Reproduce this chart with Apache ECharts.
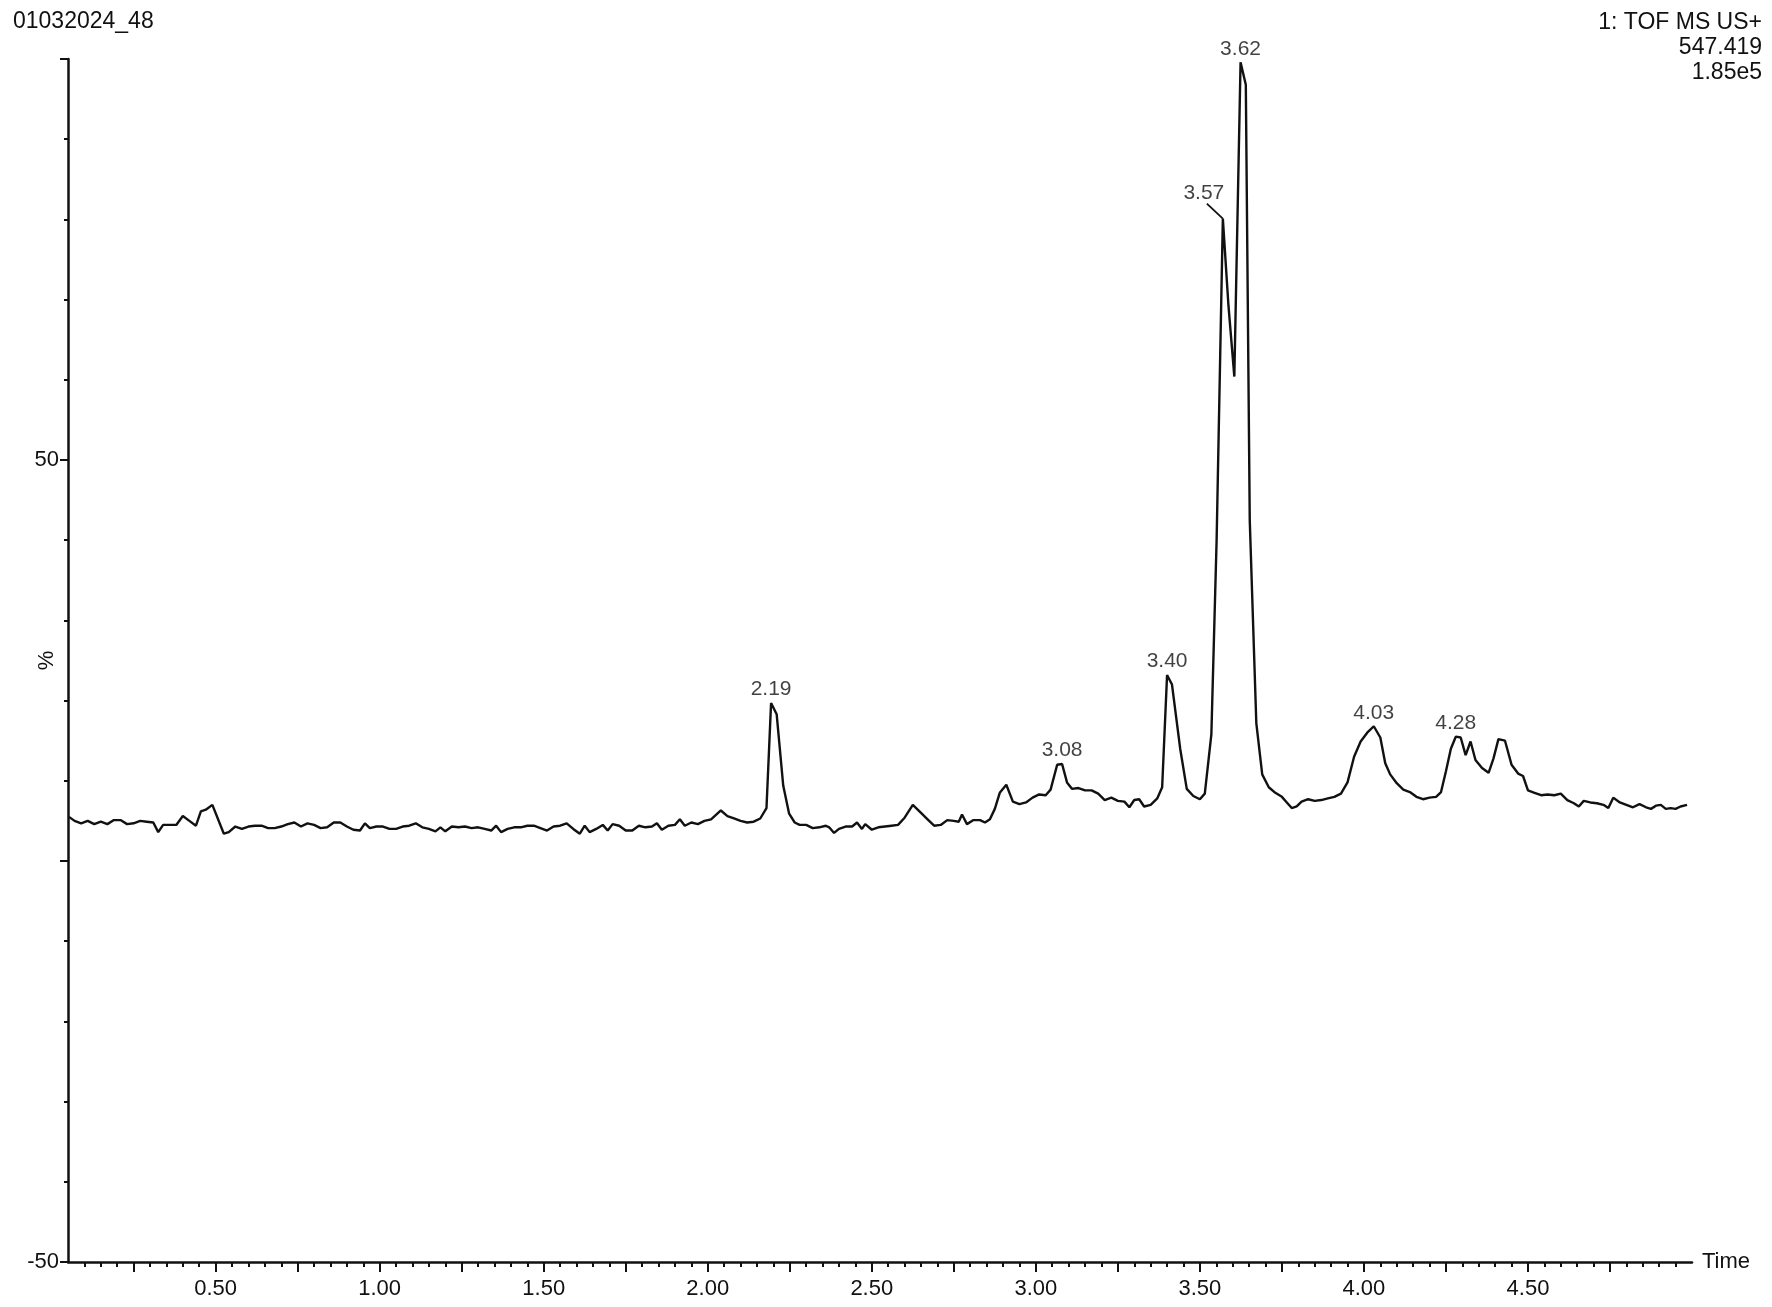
<!DOCTYPE html>
<html>
<head>
<meta charset="utf-8">
<script src="https://cdn.jsdelivr.net/npm/echarts@6/dist/echarts.min.js"></script>
<style>
html, body { margin: 0; padding: 0; background: #fff; }
#chart { width: 1772px; height: 1307px; }
</style>
</head>
<body>
<div id="chart"></div>
<script>
// retention time (min) and relative intensity (%)
var times = [
  0.053, 0.07, 0.09, 0.11, 0.13, 0.15, 0.17, 0.19, 0.21, 0.23, 0.25, 0.27, 0.29, 0.31, 0.325, 0.34, 0.36, 0.38,
  0.40, 0.42, 0.44, 0.455, 0.47, 0.49, 0.525, 0.54, 0.56, 0.58, 0.60, 0.62, 0.64, 0.66, 0.68, 0.70, 0.72, 0.74,
  0.76, 0.78, 0.80, 0.82, 0.84, 0.86, 0.88, 0.90, 0.92, 0.94, 0.955, 0.97, 0.99, 1.01, 1.03, 1.05, 1.07, 1.09,
  1.11, 1.13, 1.15, 1.17, 1.185, 1.20, 1.22, 1.24, 1.26, 1.28, 1.30, 1.32, 1.34, 1.355, 1.37, 1.39, 1.41, 1.43,
  1.45, 1.47, 1.49, 1.51, 1.53, 1.55, 1.57, 1.59, 1.61, 1.625, 1.64, 1.66, 1.68, 1.695, 1.71, 1.73, 1.75, 1.77,
  1.79, 1.81, 1.83, 1.845, 1.86, 1.88, 1.90, 1.915, 1.93, 1.95, 1.97, 1.99, 2.01, 2.04, 2.06, 2.08, 2.10, 2.12,
  2.14, 2.16, 2.179, 2.193, 2.21, 2.23, 2.248, 2.265, 2.28, 2.30, 2.32, 2.34, 2.36, 2.37, 2.385, 2.40, 2.42, 2.44,
  2.455, 2.47, 2.48, 2.50, 2.52, 2.54, 2.56, 2.58, 2.60, 2.625, 2.65, 2.67, 2.69, 2.71, 2.73, 2.75, 2.765, 2.775,
  2.79, 2.81, 2.83, 2.845, 2.86, 2.875, 2.89, 2.91, 2.93, 2.95, 2.97, 2.99, 3.01, 3.03, 3.045, 3.065, 3.08, 3.095,
  3.11, 3.13, 3.15, 3.17, 3.19, 3.21, 3.23, 3.25, 3.27, 3.285, 3.30, 3.315, 3.33, 3.35, 3.37, 3.385, 3.40, 3.415,
  3.44, 3.46, 3.48, 3.50, 3.515, 3.535, 3.551, 3.570, 3.587, 3.605, 3.624, 3.640, 3.652, 3.672, 3.69, 3.71, 3.73,
  3.75, 3.765, 3.78, 3.795, 3.81, 3.83, 3.85, 3.87, 3.89, 3.91, 3.93, 3.95, 3.97, 3.99, 4.01, 4.03, 4.05, 4.065,
  4.08, 4.10, 4.12, 4.14, 4.16, 4.18, 4.20, 4.22, 4.235, 4.25, 4.265, 4.28, 4.295, 4.31, 4.325, 4.34, 4.36, 4.38,
  4.395, 4.41, 4.43, 4.45, 4.47, 4.485, 4.50, 4.52, 4.54, 4.56, 4.58, 4.60, 4.62, 4.64, 4.655, 4.67, 4.69, 4.71,
  4.73, 4.745, 4.76, 4.78, 4.80, 4.82, 4.84, 4.86, 4.875, 4.89, 4.905, 4.92, 4.935, 4.95, 4.965, 4.985
];
var intensity = [
  5.5, 5.0, 4.7, 5.0, 4.6, 4.9, 4.6, 5.1, 5.1, 4.6, 4.7, 5.0, 4.9, 4.8, 3.6, 4.5, 4.5, 4.5,
  5.6, 5.0, 4.4, 6.2, 6.4, 7.0, 3.4, 3.6, 4.3, 4.0, 4.3, 4.4, 4.4, 4.1, 4.1, 4.3, 4.6, 4.8,
  4.3, 4.7, 4.5, 4.1, 4.2, 4.8, 4.8, 4.3, 3.9, 3.8, 4.7, 4.1, 4.3, 4.3, 4.0, 4.0, 4.3, 4.4,
  4.7, 4.2, 4.0, 3.7, 4.2, 3.7, 4.3, 4.2, 4.3, 4.1, 4.2, 4.0, 3.8, 4.4, 3.6, 4.0, 4.2, 4.2,
  4.4, 4.4, 4.1, 3.8, 4.3, 4.4, 4.7, 4.0, 3.4, 4.4, 3.6, 4.0, 4.5, 3.8, 4.6, 4.4, 3.8, 3.8,
  4.4, 4.2, 4.3, 4.7, 3.9, 4.4, 4.5, 5.2, 4.4, 4.8, 4.6, 5.0, 5.2, 6.3, 5.6, 5.3, 5.0, 4.8,
  4.9, 5.3, 6.6, 19.7, 18.3, 9.4, 5.9, 4.8, 4.5, 4.5, 4.1, 4.2, 4.4, 4.2, 3.5, 4.0, 4.3, 4.3,
  4.8, 4.0, 4.6, 3.9, 4.2, 4.3, 4.4, 4.5, 5.4, 7.0, 6.0, 5.2, 4.4, 4.5, 5.1, 5.0, 4.9, 5.8,
  4.6, 5.1, 5.1, 4.8, 5.2, 6.5, 8.5, 9.5, 7.4, 7.1, 7.3, 7.9, 8.3, 8.2, 8.9, 12.0, 12.1, 9.8,
  9.0, 9.1, 8.8, 8.8, 8.4, 7.6, 7.9, 7.5, 7.4, 6.7, 7.6, 7.7, 6.8, 7.0, 7.8, 9.2, 23.2, 22.0,
  14.0, 9.0, 8.1, 7.7, 8.4, 15.8, 40.0, 80.1, 69.3, 60.4, 99.6, 96.8, 42.5, 17.2, 10.8, 9.2, 8.5,
  8.0, 7.3, 6.6, 6.8, 7.4, 7.7, 7.5, 7.6, 7.8, 8.0, 8.4, 9.8, 13.0, 14.9, 16.0, 16.8, 15.4, 12.2,
  10.8, 9.7, 8.9, 8.6, 8.0, 7.7, 7.9, 8.0, 8.6, 11.2, 14.0, 15.5, 15.4, 13.2, 14.9, 12.6, 11.6, 11.0,
  12.8, 15.2, 15.0, 12.0, 10.9, 10.6, 8.8, 8.5, 8.2, 8.3, 8.2, 8.4, 7.6, 7.2, 6.8, 7.5, 7.3, 7.2,
  7.0, 6.6, 7.9, 7.3, 7.0, 6.7, 7.1, 6.7, 6.5, 6.9, 7.0, 6.5, 6.6, 6.5, 6.8, 7.0
];

// peak annotations
var peakTimes = [2.193, 3.08, 3.40, 3.570, 3.624, 4.03, 4.28];
var peakLabels = ['2.19', '3.08', '3.40', '3.57', '3.62', '4.03', '4.28'];
var leaderPeak = '3.57'; // this label is pushed up-left with a short leader line

// instrument info, top right
var infoLines = ['1: TOF MS US+', '547.419', '1.85e5'];

// axis labels
var xLabelValues = [0.5, 1.0, 1.5, 2.0, 2.5, 3.0, 3.5, 4.0, 4.5];
var yLabelValues = [-50, 50];

var FONT = "'Liberation Sans', Arial, sans-serif";
var INK = '#111';

var minorTicks = [];
for (var k = 2; k <= 99; k++) minorTicks.push(+(k * 0.05).toFixed(2));
var mediumTicks = [];
for (var m = 1; m <= 19; m++) mediumTicks.push(m * 0.25);

var lineData = times.map(function (t, i) { return [t, intensity[i]]; });

function nearestIndex(t) {
    var best = 0;
    for (var i = 1; i < times.length; i++) {
        if (Math.abs(times[i] - t) < Math.abs(times[best] - t)) best = i;
    }
    return best;
}

var peakData = peakTimes.map(function (t, j) {
    var i = nearestIndex(t);
    return [times[i], intensity[i], peakLabels[j]];
});
var leaderIdx = peakLabels.indexOf(leaderPeak);

var chart = echarts.init(document.getElementById('chart'));

chart.setOption({
    animation: false,
    backgroundColor: '#fff',
    title: {
        text: '01032024_48',
        left: 13,
        top: 10,
        padding: 0,
        textStyle: { fontSize: 23, fontWeight: 'normal', color: INK, fontFamily: FONT }
    },
    grid: {
        left: 68,
        right: 80,
        top: 59,
        bottom: 45,
        containLabel: false,
        outerBoundsMode: 'none'
    },
    xAxis: [{
        type: 'value',
        min: 0.05,
        max: 5.0,
        position: 'bottom',
        name: 'Time',
        nameLocation: 'end',
        nameGap: 10,
        nameTextStyle: { fontSize: 22, color: INK, fontFamily: FONT, verticalAlign: 'middle' },
        axisLine: { show: true, onZero: false, lineStyle: { color: INK, width: 2.5 } },
        axisTick: { show: true, customValues: minorTicks, length: 5, lineStyle: { color: INK, width: 2 } },
        axisLabel: { show: false },
        splitLine: { show: false }
    }, {
        type: 'value',
        min: 0.05,
        max: 5.0,
        position: 'bottom',
        axisLine: { show: false, onZero: false },
        axisTick: { show: true, customValues: mediumTicks, length: 10, lineStyle: { color: INK, width: 2 } },
        axisLabel: {
            show: true,
            customValues: xLabelValues,
            margin: 16,
            fontSize: 22,
            color: INK,
            fontFamily: FONT,
            formatter: function (v) { return v.toFixed(2); }
        },
        splitLine: { show: false }
    }],
    yAxis: [{
        type: 'value',
        min: -50,
        max: 100,
        interval: 10,
        position: 'left',
        name: '%',
        nameLocation: 'middle',
        nameRotate: 90,
        nameGap: 10,
        nameTextStyle: { fontSize: 22, color: INK, fontFamily: FONT },
        axisLine: { show: true, onZero: false, lineStyle: { color: INK, width: 2.5 } },
        axisTick: { show: true, length: 4, lineStyle: { color: INK, width: 2 } },
        axisLabel: { show: false },
        splitLine: { show: false }
    }, {
        type: 'value',
        min: -50,
        max: 100,
        interval: 50,
        position: 'left',
        axisLine: { show: false, onZero: false },
        axisTick: { show: true, length: 8, lineStyle: { color: INK, width: 2 } },
        axisLabel: {
            show: true,
            customValues: yLabelValues,
            margin: 9,
            fontSize: 22,
            color: INK,
            fontFamily: FONT
        },
        splitLine: { show: false }
    }],
    series: [{
        name: 'TIC',
        type: 'line',
        xAxisIndex: 0,
        yAxisIndex: 0,
        data: lineData,
        showSymbol: false,
        silent: true,
        lineStyle: { color: INK, width: 2.4 }
    }, {
        name: 'peaks',
        type: 'scatter',
        xAxisIndex: 0,
        yAxisIndex: 0,
        data: peakData,
        symbolSize: 0,
        silent: true,
        label: {
            show: true,
            position: 'top',
            distance: 3,
            fontSize: 21,
            color: INK,
            fontFamily: FONT,
            formatter: function (p) { return p.value[2]; }
        },
        labelLayout: function (params) {
            if (params.dataIndex === leaderIdx) {
                return { dx: -19, dy: -12 };
            }
            return {};
        }
    }]
});

// info lines (each right-aligned) and a short leader line from the 3.57 label to its peak
var graphics = infoLines.map(function (txt, i) {
    return {
        type: 'text',
        right: 10,
        top: 11 + i * 25,
        silent: true,
        style: { text: txt, font: '23px ' + FONT, fill: INK }
    };
});
var lp = chart.convertToPixel({ xAxisIndex: 0, yAxisIndex: 0 }, peakData[leaderIdx].slice(0, 2));
graphics.push({
    type: 'line',
    silent: true,
    shape: { x1: lp[0] - 16, y1: lp[1] - 15, x2: lp[0], y2: lp[1] },
    style: { stroke: INK, lineWidth: 1.8 }
});
chart.setOption({ graphic: graphics });
</script>
</body>
</html>
